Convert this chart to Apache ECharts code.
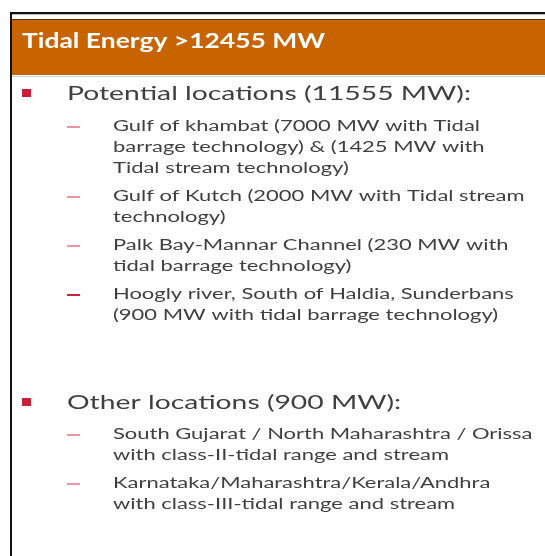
<!DOCTYPE html>
<html>
<head>
<meta charset="utf-8">
<script src="https://cdn.jsdelivr.net/npm/echarts@6/dist/echarts.min.js"></script>
<style>
  html, body { margin: 0; padding: 0; background: #fff; }
  #chart { width: 545px; height: 556px; }
</style>
</head>
<body>
<div id="chart"></div>
<script>
// slide text
const titleText = "Tidal Energy >12455 MW";
const potentialHeading = "Potential locations (11555 MW):";
const potentialItems = [
  ["Gulf of khambat (7000 MW with Tidal", "barrage technology) & (1425 MW with", "Tidal stream technology)"],
  ["Gulf of Kutch (2000 MW with Tidal stream", "technology)"],
  ["Palk Bay-Mannar Channel (230 MW with", "tidal barrage technology)"],
  ["Hoogly river, South of Haldia, Sunderbans", "(900 MW with tidal barrage technology)"]
];
const otherHeading = "Other locations (900 MW):";
const otherItems = [
  ["South Gujarat / North Maharashtra / Orissa", "with class-II-tidal range and stream"],
  ["Karnataka/Maharashtra/Kerala/Andhra", "with class-III-tidal range and stream"]
];

const FONT = "Lato";
const titleFont = "bold 21px " + FONT;
const headFont = "20px " + FONT;
const subFont = "14.5px " + FONT;

// the slide picture is stretched sideways, so squeeze each style to its measured width
const ctx = document.createElement("canvas").getContext("2d");
function fitScale(font, sample, width) {
  ctx.font = font;
  return width / ctx.measureText(sample).width;
}
const titleScale = fitScale(titleFont, titleText, 303);
const headScale = fitScale(headFont, potentialHeading, 404);
const subScale = fitScale(subFont, potentialItems[0][0], 367);

const graphic = [];

function addText(str, x, y, font, color, scale) {
  graphic.push({
    type: "text",
    x: x,
    y: y,
    scaleX: scale,
    silent: true,
    style: {
      text: str,
      font: font,
      fill: color,
      textAlign: "left",
      textVerticalAlign: "middle"
    }
  });
}

function addRect(x, y, w, h, color) {
  graphic.push({
    type: "rect",
    silent: true,
    shape: { x: x, y: y, width: w, height: h },
    style: { fill: color }
  });
}

// frame and header band
addRect(10, 12, 535, 2, "#111");
addRect(12, 14, 533, 1, "#bbb");
addRect(12, 19, 533, 1, "#5a3410");
addRect(12, 20, 533, 55, "#c86400");
addRect(12, 76, 533, 1, "#cfcfcf");
addRect(10, 12, 2, 544, "#111");

addText(titleText, 22, 41, titleFont, "#ffffff", titleScale);

function addSection(heading, items, headY, firstY) {
  addRect(22, headY - 4, 9, 8, "#c8203a");
  addText(heading, 67, headY + 1, headFont, "#3f3f3f", headScale);
  let y = firstY;
  items.forEach((lines, i) => {
    const dashColor = items === potentialItems && i === 3 ? "#d0203a" : "#ea95a2";
    addRect(67, y, 13, 2, dashColor);
    lines.forEach((line, j) => {
      addText(line, 113, y, subFont, "#3f3f3f", subScale);
      if (j < lines.length - 1) y += 21;
    });
    y += 28;
  });
}

addSection(potentialHeading, potentialItems, 93, 126);
addSection(otherHeading, otherItems, 402, 434);

const chart = echarts.init(document.getElementById("chart"));
chart.setOption({
  animation: false,
  graphic: graphic
});
</script>
</body>
</html>
